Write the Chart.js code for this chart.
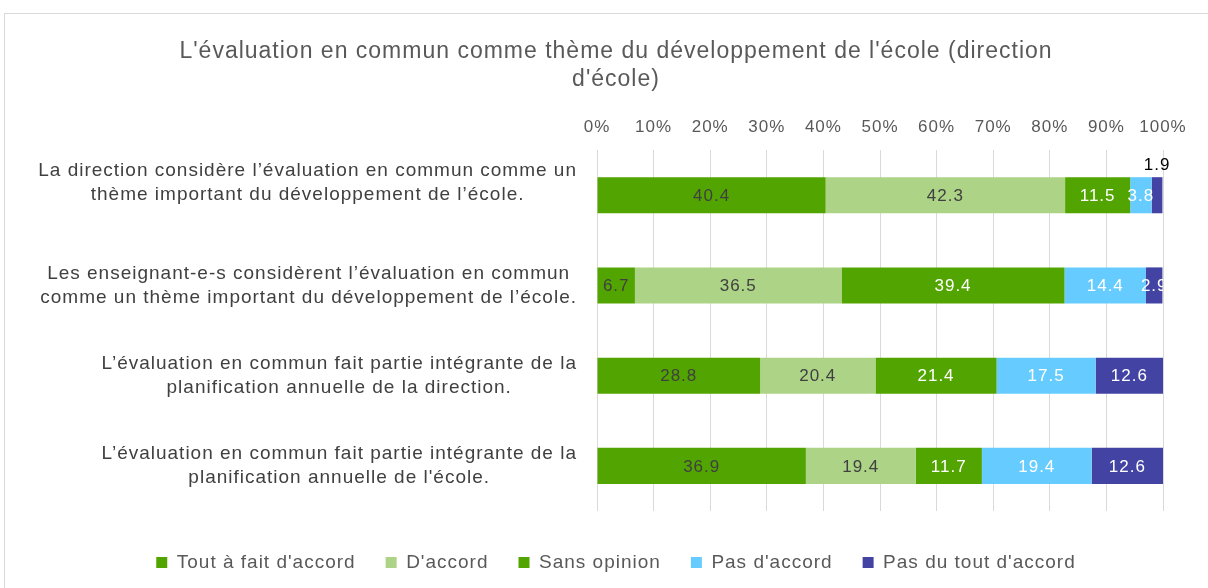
<!DOCTYPE html>
<html>
<head>
<meta charset="utf-8">
<script src="https://cdn.jsdelivr.net/npm/chart.js@4"></script>
<style>
    html, body { margin: 0; padding: 0; background: #fff; overflow: hidden; }
    #frame { position: absolute; left: 4px; top: 13px; width: 1220px; height: 600px; border: 1px solid #d9d9d9; }
    #wrap { position: absolute; left: 0; top: 0; width: 1232px; height: 588px; }
</style>
</head>
<body>
<div id="frame"></div>
<div id="wrap"><canvas id="surveyChart"></canvas></div>
<script>
// data
const categories = [
    ['La direction considère l’évaluation en commun comme un', 'thème important du développement de l’école.', ''],
    ['Les enseignant-e-s considèrent l’évaluation en commun', 'comme un thème important du développement de l’école.'],
    ['L’évaluation en commun fait partie intégrante de la', 'planification annuelle de la direction.'],
    ['L’évaluation en commun fait partie intégrante de la', 'planification annuelle de l\'école.']
];
const seriesNames = ['Tout à fait d\'accord', 'D\'accord', 'Sans opinion', 'Pas d\'accord', 'Pas du tout d\'accord'];
const toutAFait = [40.4, 6.7, 28.8, 36.9];
const dAccord = [42.3, 36.5, 20.4, 19.4];
const sansOpinion = [11.5, 39.4, 21.4, 11.7];
const pasDAccord = [3.8, 14.4, 17.5, 19.4];
const pasDuTout = [1.9, 2.9, 12.6, 12.6];
const tickValues = [0, 10, 20, 30, 40, 50, 60, 70, 80, 90, 100];

const seriesColors = ['#52a500', '#acd386', '#52a500', '#66ccff', '#4343a3'];
const labelColors = ['#404040', '#404040', '#ffffff', '#ffffff', '#ffffff'];
const fontFamily = '"Liberation Sans", Arial, sans-serif';

// the reference text is spaced out a little
const spacing = {
    id: 'spacing',
    beforeUpdate(chart) { chart.ctx.letterSpacing = '1px'; },
    beforeDraw(chart) { chart.ctx.letterSpacing = '1px'; }
};

// category labels: block right-aligned to the axis, lines centred inside the block
const categoryLabels = {
    id: 'categoryLabels',
    afterDraw(chart) {
        const ctx = chart.ctx;
        const yScale = chart.scales.y;
        const lineH = 24;
        const rightEdge = yScale.right - 20;
        ctx.save();
        ctx.font = '19px ' + fontFamily;
        ctx.fillStyle = '#404040';
        ctx.textAlign = 'center';
        ctx.textBaseline = 'middle';
        categories.forEach(function(lines, i) {
            const widest = Math.max.apply(null, lines.map(function(l) { return ctx.measureText(l).width; }));
            const cx = rightEdge - widest / 2;
            const top = yScale.getPixelForValue(i) - (lines.length - 1) * lineH / 2;
            lines.forEach(function(l, k) {
                ctx.fillText(l, cx, top + k * lineH);
            });
        });
        ctx.restore();
    }
};

// values drawn in the middle of each segment, tiny ones go above the bar
const barLabels = {
    id: 'barLabels',
    afterDatasetsDraw(chart) {
        const ctx = chart.ctx;
        const area = chart.chartArea;
        ctx.save();
        ctx.font = '17px ' + fontFamily;
        ctx.textAlign = 'center';
        ctx.textBaseline = 'middle';
        chart.data.datasets.forEach(function(ds, i) {
            chart.getDatasetMeta(i).data.forEach(function(bar, j) {
                const v = ds.data[j];
                const left = Math.min(bar.x, bar.base);
                const right = Math.min(Math.max(bar.x, bar.base), area.right);
                const cx = (left + right) / 2;
                if (v < 2.5) {
                    ctx.fillStyle = '#000000';
                    ctx.fillText(v.toFixed(1), cx, bar.y - bar.height / 2 - 12);
                } else {
                    ctx.save();
                    ctx.beginPath();
                    ctx.rect(area.left, area.top, area.right - area.left, area.bottom - area.top);
                    ctx.clip();
                    ctx.fillStyle = labelColors[i];
                    ctx.fillText(v.toFixed(1), cx, bar.y + 1);
                    ctx.restore();
                }
            });
        });
        ctx.restore();
    }
};

const allSeries = [toutAFait, dAccord, sansOpinion, pasDAccord, pasDuTout];

new Chart(document.getElementById('surveyChart'), {
    type: 'bar',
    data: {
        labels: categories,
        datasets: allSeries.map(function(values, i) {
            return {
                label: seriesNames[i],
                data: values,
                backgroundColor: seriesColors[i],
                borderWidth: 0,
                barPercentage: 0.4,
                categoryPercentage: 1
            };
        })
    },
    options: {
        indexAxis: 'y',
        responsive: true,
        maintainAspectRatio: false,
        animation: false,
        layout: {
            padding: { left: 0, right: 0, top: 0, bottom: 6 }
        },
        plugins: {
            title: {
                display: true,
                text: ['L\'évaluation en commun comme thème du développement de l\'école (direction', 'd\'école)'],
                color: '#595959',
                font: { family: fontFamily, size: 23, weight: 'normal', lineHeight: 1.22 },
                padding: { top: 38, bottom: 10 }
            },
            legend: {
                position: 'bottom',
                title: {
                    display: true,
                    text: ' ',
                    font: { size: 10, lineHeight: 1.2 },
                    padding: 0
                },
                labels: {
                    color: '#595959',
                    font: { family: fontFamily, size: 19 },
                    boxWidth: 11,
                    boxHeight: 11,
                    padding: 30
                }
            },
            tooltip: { enabled: false }
        },
        scales: {
            x: {
                position: 'top',
                stacked: true,
                min: 0,
                max: 100,
                afterBuildTicks: function(axis) {
                    axis.ticks = tickValues.map(function(v) { return { value: v }; });
                },
                afterFit: function(axis) { axis.height = 46; },
                grid: { color: '#d9d9d9', drawTicks: false },
                border: { display: false },
                ticks: {
                    color: '#595959',
                    font: { family: fontFamily, size: 17 },
                    padding: 13,
                    callback: function(value) { return value + '%'; }
                }
            },
            y: {
                stacked: true,
                afterFit: function(axis) { axis.width = 597; },
                grid: { display: false, drawTicks: false },
                border: { display: false },
                ticks: { display: false }
            },
            // empty right-hand margin so the plot ends at 100% where the reference does
            yRight: {
                type: 'linear',
                axis: 'y',
                position: 'right',
                afterFit: function(axis) { axis.width = 69; },
                grid: { display: false, drawTicks: false },
                border: { display: false },
                ticks: { display: false }
            }
        }
    },
    plugins: [spacing, categoryLabels, barLabels]
});
</script>
</body>
</html>
